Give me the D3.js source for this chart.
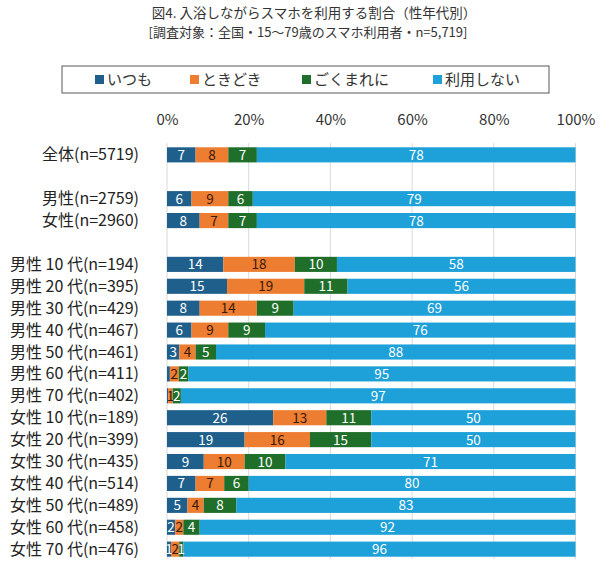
<!DOCTYPE html>
<html><head><meta charset="utf-8">
<script src="https://cdn.jsdelivr.net/npm/d3@7"></script>
<style>body{margin:0;background:#fff;font-family:"Noto Sans CJK JP","Noto Sans",sans-serif;}</style>
</head><body><svg id="c" width="610" height="575"></svg>
<script>
const categories = ["全体(n=5719)","","男性(n=2759)","女性(n=2960)","",
"男性 10 代(n=194)","男性 20 代(n=395)","男性 30 代(n=429)","男性 40 代(n=467)","男性 50 代(n=461)","男性 60 代(n=411)","男性 70 代(n=402)",
"女性 10 代(n=189)","女性 20 代(n=399)","女性 30 代(n=435)","女性 40 代(n=514)","女性 50 代(n=489)","女性 60 代(n=458)","女性 70 代(n=476)"];
const seriesNames = ["いつも","ときどき","ごくまれに","利用しない"];
const itsumo   = [7,null,6,8,null,13.8,14.7,8,6,3,0.7,0.3,26,19,9,7,5,2,1];
const tokidoki = [8,null,9,7,null,17.5,18.9,14,9,4,2.2,1.1,13,16,10,7,4,2,2];
const gokumare = [7,null,6,7,null,10.3,10.6,9,9,5,2.3,2.0,11,15,10,6,8,4,1];
const shinai   = [78,null,79,78,null,58.4,55.8,69,76,88,94.8,96.6,50,50,71,80,83,92,96];
const tickValues = [0,20,40,60,80,100];
const colors = ["#1f5f8b","#ed7d31","#1f6e2a","#1ea0d8"];
const labelColors = ["#fff","#3a1a08","#fff","#fff"];

const svg = d3.select("#c");
const x = d3.scaleLinear().domain([0,100]).range([167,575.5]);
const y = d3.scaleBand().domain(d3.range(categories.length)).range([144,560]).paddingInner(0.31).paddingOuter(0.15);

svg.append("text").attr("x",314).attr("y",18).attr("text-anchor","middle").attr("font-size",13.5).attr("fill","#333")
  .text("図4. 入浴しながらスマホを利用する割合（性年代別）");
svg.append("text").attr("x",308).attr("y",37).attr("text-anchor","middle").attr("font-size",13).attr("fill","#333")
  .text("[調査対象：全国・15～79歳のスマホ利用者・n=5,719]");

// legend
svg.append("rect").attr("x",62).attr("y",66).attr("width",487).attr("height",27).attr("fill","#fff").attr("stroke","#595959").attr("stroke-width",1);
const legX = [95,190,302,433];
seriesNames.forEach((n,i)=>{
  svg.append("rect").attr("x",legX[i]).attr("y",75).attr("width",9).attr("height",9).attr("fill",colors[i]);
  svg.append("text").attr("x",legX[i]+12).attr("y",85).attr("font-size",15).attr("fill","#333").text(n);
});

// gridlines + axis
const grid = svg.append("g");
grid.selectAll("line").data(tickValues).join("line")
  .attr("x1",d=>x(d)).attr("x2",d=>x(d)).attr("y1",143).attr("y2",559)
  .attr("stroke","#d9d9d9").attr("stroke-width",1);
const ax = svg.append("g").attr("transform","translate(0,125)")
  .call(d3.axisTop(x).tickValues(tickValues).tickFormat(d=>d+"%").tickSize(0).tickPadding(0));
ax.select(".domain").remove();
ax.selectAll("text").attr("font-size",15).attr("fill","#333").attr("font-family","Noto Sans CJK JP");

// category labels
svg.append("g").selectAll("text").data(categories).join("text")
  .attr("x",139).attr("y",(d,i)=>y(i)+y.bandwidth()/2+5.5).attr("text-anchor","end")
  .attr("font-size",16).attr("fill","#222").text(d=>d);

// bars
const series = [itsumo,tokidoki,gokumare,shinai];
const rows = categories.map((c,i)=>({i, vals: series.map(s=>s[i])})).filter(r=>r.vals[0]!==null);
const stack = [];
rows.forEach(r=>{
  let acc=0;
  r.vals.forEach((v,k)=>{ stack.push({i:r.i,k,v,x0:acc,x1:acc+v}); acc+=v; });
});
const g = svg.append("g");
g.selectAll("rect").data(stack).join("rect")
  .attr("x",d=>x(d.x0)).attr("width",d=>x(d.x1)-x(d.x0))
  .attr("y",d=>y(d.i)).attr("height",y.bandwidth()).attr("fill",d=>colors[d.k]);
g.selectAll("text").data(stack.filter(d=>d.v>=1)).join("text")
  .attr("x",d=>x((d.x0+d.x1)/2)).attr("y",d=>y(d.i)+y.bandwidth()/2+5)
  .attr("text-anchor","middle").attr("font-size",13.5).attr("fill",d=>labelColors[d.k])
  .text(d=>Math.round(d.v));
</script></body></html>
